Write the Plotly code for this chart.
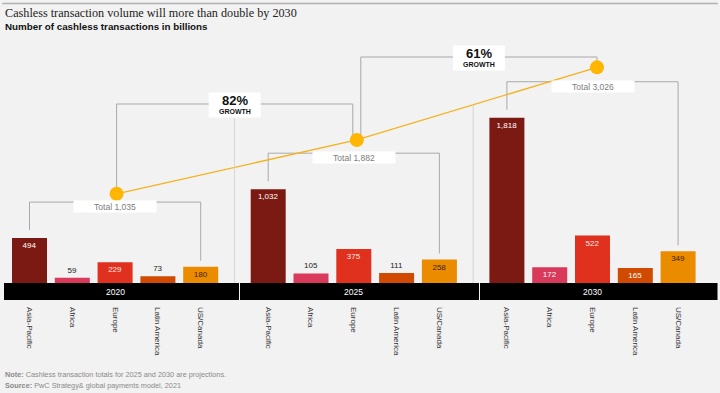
import plotly.graph_objects as go

# ---------------- data ----------------
years = ["2020", "2025", "2030"]
regions = ["Asia-Pacific", "Africa", "Europe", "Latin America", "US/Canada"]
asia_pacific = [494, 1032, 1818]
africa = [59, 105, 172]
europe = [229, 375, 522]
latin_america = [73, 111, 165]
us_canada = [180, 258, 349]
totals = [1035, 1882, 3026]
growth_labels = ["82%", "61%"]

series = [asia_pacific, africa, europe, latin_america, us_canada]

# ---------------- styling / layout constants ----------------
W, H = 720, 393
BG = "#f2f2f2"
colors = ["#7b1a13", "#d9395a", "#e0301e", "#d04a02", "#eb8c00"]
inside_text_colors = ["#ffffff", "#ffffff", "#ffe9e4", "#ffffff", "#3d1c00"]
X0 = 29.5          # first bar centre (x units = pixels)
BAR_STEP = 42.8
GROUP_STEP = 238.7
BAR_W = 35
BASE_PX = 283      # baseline pixel row
UNITS_PER_PX = 11.0
# secondary axis (totals line) mapping
T_REF, T_PX, T_SLOPE = 1981.0, 133.7, 0.0635
FONT = "Liberation Sans, Arial"

def cx(g, j):
    return X0 + g * GROUP_STEP + j * BAR_STEP

def v2px(v):
    return BASE_PX - v / UNITS_PER_PX

def t2px(t):
    return T_PX - T_SLOPE * (t - T_REF)

def py(px):
    return 1 - px / H

fig = go.Figure()

for j, (name, vals) in enumerate(zip(regions, series)):
    xs = [cx(g, j) for g in range(len(years))]
    pos = ["inside" if v > 150 else "outside" for v in vals]
    fcol = [inside_text_colors[j] if v > 150 else "#222222" for v in vals]
    fig.add_trace(go.Bar(
        x=xs, y=vals, name=name, width=BAR_W,
        marker=dict(color=colors[j], line=dict(width=0)),
        text=[f"{v:,}" for v in vals], textposition=pos,
        insidetextanchor="end", constraintext="none",
        textfont=dict(family=FONT, size=8, color=fcol),
        outsidetextfont=dict(family=FONT, size=8, color="#222222"),
        cliponaxis=False, showlegend=False, hoverinfo="skip",
    ))

# totals line on secondary axis
dot_x = [cx(g, 2) + 1.5 * (g + 1) for g in range(len(years))]
fig.add_trace(go.Scatter(
    x=dot_x, y=totals, yaxis="y2", mode="lines+markers",
    line=dict(color="#f5b21c", width=1.3),
    marker=dict(color="#ffb600", size=14, line=dict(width=0)),
    showlegend=False, hoverinfo="skip", cliponaxis=False,
))

shapes = []
annotations = []
GRAY = "#a9a9a9"

def note(**kw):
    kw.setdefault("showarrow", False)
    kw.setdefault("yanchor", "middle")
    kw.setdefault("xanchor", "center")
    annotations.append(kw)

# top rule
shapes.append(dict(type="line", xref="paper", yref="paper", x0=0.003, x1=0.997,
                   y0=py(3.5), y1=py(3.5), line=dict(color="#b0b0b0", width=1.5)))

# panel separators
for g in range(1, len(years)):
    xs = (cx(g - 1, 4) + cx(g, 0)) / 2
    shapes.append(dict(type="line", xref="x", yref="paper", x0=xs, x1=xs,
                       y0=py(105), y1=py(300), line=dict(color="#d6d6d6", width=1)))

# black year bands
band_edges = [4, 239.5, 479.5, 718]
for g, yr in enumerate(years):
    shapes.append(dict(type="rect", xref="x", yref="paper",
                       x0=band_edges[g] + (0.5 if g else 0), x1=band_edges[g + 1] - 0.5,
                       y0=py(300), y1=py(283), fillcolor="#000000", line=dict(width=0),
                       layer="above"))
    note(x=cx(g, 2), y=py(291.5), xref="x", yref="paper", text=yr,
         font=dict(family=FONT, size=8.5, color="#ffffff"))

# total brackets
for g in range(len(years)):
    vals = [s[g] for s in series]
    lvl = v2px(max(vals)) - 36
    xl, xr = cx(g, 0), cx(g, 4)
    yl = v2px(vals[0]) - 8
    yr_ = v2px(vals[4]) - 6
    path = f"M {xl},{py(yl)} L {xl},{py(lvl)} L {xr},{py(lvl)} L {xr},{py(yr_)}"
    shapes.append(dict(type="path", xref="x", yref="paper", path=path,
                       line=dict(color=GRAY, width=1), layer="below"))
    note(x=cx(g, 2), y=py(lvl + 4.5), xref="x", yref="paper",
         text=f"Total {totals[g]:,}", bgcolor="#ffffff", width=80, height=9,
         font=dict(family=FONT, size=8.5, color="#7c7c7c"))

# growth brackets
growth_levels_px = [104, 57]
for g in range(len(years) - 1):
    xa = dot_x[g] + (4 if g > 0 else 0)
    xb = dot_x[g + 1] - (4 if g + 1 < len(years) - 1 else 0)
    ya = t2px(totals[g])
    yb = t2px(totals[g + 1]) - 5
    lvl = growth_levels_px[g]
    path = f"M {xa},{py(ya)} L {xa},{py(lvl)} L {xb},{py(lvl)} L {xb},{py(yb)}"
    shapes.append(dict(type="path", xref="x", yref="paper", path=path,
                       line=dict(color=GRAY, width=1), layer="below"))
    xm = (xa + xb) / 2
    shapes.append(dict(type="rect", xref="x", yref="paper", x0=xm - 26, x1=xm + 26,
                       y0=py(lvl + 13.5), y1=py(lvl - 11.5), fillcolor="#ffffff",
                       line=dict(width=0), layer="above"))
    note(x=xm, y=py(lvl - 4), xref="x", yref="paper", text=f"<b>{growth_labels[g]}</b>",
         font=dict(family=FONT, size=13, color="#111111"))
    note(x=xm, y=py(lvl + 7), xref="x", yref="paper", text="<b>GROWTH</b>",
         font=dict(family=FONT, size=7, color="#111111"))

# titles
note(x=3 / W, y=py(12.5), xref="paper", yref="paper", xanchor="left",
     text="Cashless transaction volume will more than double by 2030",
     font=dict(family="Liberation Serif, serif", size=12.2, color="#222222"))
note(x=3 / W, y=py(26.5), xref="paper", yref="paper", xanchor="left",
     text="<b>Number of cashless transactions in billions</b>",
     font=dict(family=FONT, size=9.8, color="#111111"))
# footer
note(x=3 / W, y=py(374), xref="paper", yref="paper", xanchor="left",
     text="<b>Note:</b> Cashless transaction totals for 2025 and 2030 are projections.",
     font=dict(family=FONT, size=7.3, color="#8a8a8a"))
note(x=3 / W, y=py(385), xref="paper", yref="paper", xanchor="left",
     text="<b>Source:</b> PwC Strategy& global payments model, 2021",
     font=dict(family=FONT, size=7.3, color="#8a8a8a"))

tickvals = [cx(g, j) for g in range(len(years)) for j in range(len(regions))]
ticktext = [r for g in range(len(years)) for r in regions]

fig.update_layout(
    width=W, height=H, margin=dict(l=0, r=0, t=0, b=0),
    paper_bgcolor=BG, plot_bgcolor=BG, barmode="overlay",
    xaxis=dict(range=[0, W], domain=[0, 1], anchor="free", position=py(301),
               tickmode="array", tickvals=tickvals, ticktext=ticktext, tickangle=90,
               ticks="", showgrid=False, zeroline=False, showline=False,
               tickfont=dict(family=FONT, size=8, color="#333333"),
               ticklabelstandoff=5),
    yaxis=dict(range=[-(H - BASE_PX) * UNITS_PER_PX, BASE_PX * UNITS_PER_PX], domain=[0, 1],
               visible=False, fixedrange=True),
    yaxis2=dict(range=[T_REF - (H - T_PX) / T_SLOPE, T_REF + T_PX / T_SLOPE],
                overlaying="y", visible=False),
    shapes=shapes, annotations=annotations,
)

fig.write_html("out.html", config={"displayModeBar": False},
               post_script="document.body.style.margin='0';document.body.style.overflow='hidden';")
